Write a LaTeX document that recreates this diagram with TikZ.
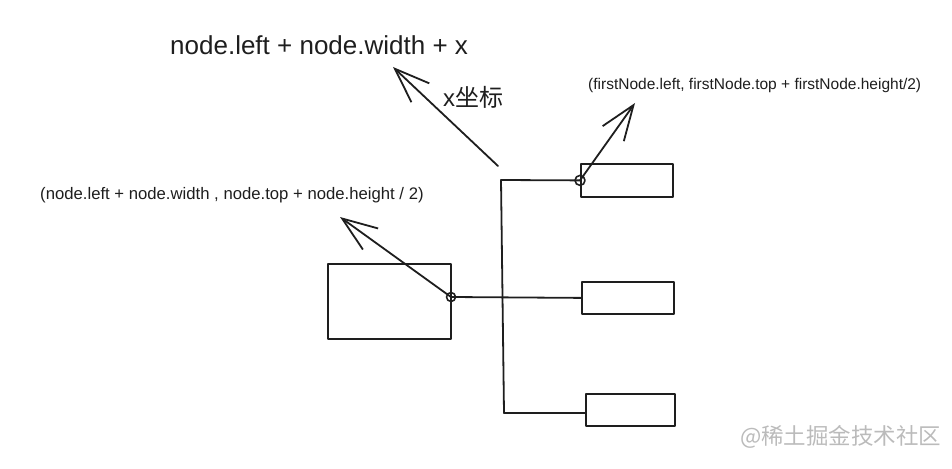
\documentclass[tikz,border=0pt]{standalone}
\usepackage{fontspec}
\setmainfont{Liberation Sans}
\newfontfamily\cjk{Noto Sans CJK SC}
\usetikzlibrary{arrows.meta}
\definecolor{ink}{HTML}{1E1E1E}
\definecolor{wm}{HTML}{BBBBBB}
\tikzset{
  pen/.style={draw=ink, line width=1.8pt, line cap=round, line join=round},
  box/.style={pen, rectangle, inner sep=0pt, anchor=north west},
  barb/.style={pen, -{Straight Barb[length=35pt, width=26pt, line width=1.8pt]}},
  lbl/.style={anchor=west, inner sep=0pt, text=ink},
  dotc/.style={pen, line width=1.6pt}
}
\begin{document}
\begin{tikzpicture}[x=1pt, y=-1pt]
\useasboundingbox (0,0) rectangle (952,468);
% boxes
\node[box, minimum width=123pt, minimum height=75pt] (big) at (327,263) {};
\node[box, minimum width=92pt, minimum height=33pt] (n1) at (580,163) {};
\node[box, minimum width=92pt, minimum height=32pt] (n2) at (581,281) {};
\node[box, minimum width=89pt, minimum height=32pt] (n3) at (585,393) {};
% key points
\coordinate (c1) at (451,297);
\coordinate (c2) at (n1.west);
\coordinate (vt) at (501,180);
\coordinate (vb) at (504,413);
\coordinate (xt) at (498,166);
\coordinate (tipx) at (393,67);
\coordinate (tip1) at (635,103);
\coordinate (tip2) at (340,217);
% connectors
\draw[pen] (vt) -- (vb);
\draw[pen] (vt) -- (c2);
\draw[pen] (c1) -- (n2.west);
\draw[pen] (vb) -- (n3.west |- vb);
% marker circles
\draw[dotc] (c1) circle (4.5pt);
\draw[dotc] (c2) circle (5pt);
% arrows
\draw[barb] (xt) -- (tipx);
\draw[barb] (c2) -- (tip1);
\draw[barb] (c1) -- (tip2);
% labels
\node[lbl, font=\fontsize{26}{30}\selectfont] (t1) at (170,45) {node.left + node.width + x};
\node[lbl, font=\fontsize{24}{28}\selectfont] (t2) at (443,97) {x\cjk 坐标};
\node[lbl, font=\fontsize{15.5}{18}\selectfont] (t3) at (588,85) {(firstNode.left, firstNode.top + firstNode.height/2)};
\node[lbl, font=\fontsize{16.7}{20}\selectfont] (t4) at (40,195) {(node.left + node.width , node.top + node.height / 2)};
\node[lbl, text=wm, font=\cjk\fontsize{22.5}{26}\selectfont] (wmk) at (740,437) {@稀土掘金技术社区};
\end{tikzpicture}
\end{document}
